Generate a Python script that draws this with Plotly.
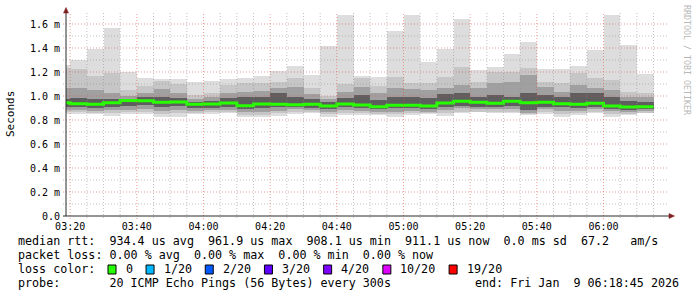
import plotly.graph_objects as go
import pandas as pd

# ---------------- data (values in ms) ----------------
bar_start = pd.date_range("2026-01-09 03:15:00", periods=36, freq="5min")

rtt_max = [1.258, 1.300, 1.392, 1.569, 1.196, 1.150, 1.145, 1.140, 1.117, 1.128,
           1.143, 1.152, 1.169, 1.208, 1.250, 1.178, 1.420, 1.678, 1.168, 1.157,
           1.542, 1.678, 1.286, 1.392, 1.645, 1.217, 1.243, 1.353, 1.450, 1.222,
           1.222, 1.250, 1.383, 1.678, 1.425, 1.183]
rtt_hi2 = [1.231, 1.225, 1.169, 1.194, 1.050, 1.083, 1.128, 1.100, 1.008, 1.028,
           1.092, 1.106, 1.111, 1.119, 1.147, 1.069, 1.000, 1.100, 1.147, 1.083,
           1.156, 1.106, 1.106, 1.161, 1.244, 1.119, 1.200, 1.200, 1.233, 1.119,
           1.111, 1.194, 1.147, 1.133, 1.036, 1.022]
rtt_hi3 = [1.064, 1.064, 1.050, 1.022, 1.000, 1.028, 1.056, 1.022, 0.972, 0.989,
           1.022, 1.036, 1.044, 1.064, 1.078, 1.017, 0.972, 1.031, 1.078, 1.022,
           1.064, 1.056, 1.050, 1.064, 1.092, 1.064, 1.106, 1.120, 1.175, 1.078,
           1.036, 1.092, 1.064, 1.050, 0.994, 0.989]
rtt_hi4 = [0.972, 0.981, 0.972, 0.972, 0.972, 0.989, 0.994, 0.981, 0.953, 0.961,
           0.981, 0.989, 0.994, 1.022, 0.994, 0.972, 0.950, 0.981, 1.008, 0.967,
           0.994, 0.994, 0.981, 1.017, 1.028, 0.989, 1.008, 0.994, 1.022, 1.008,
           0.994, 1.022, 1.022, 0.994, 0.961, 0.953]
rtt_median = [0.944, 0.936, 0.931, 0.944, 0.962, 0.961, 0.947, 0.950, 0.931, 0.933,
              0.942, 0.919, 0.933, 0.931, 0.928, 0.931, 0.917, 0.933, 0.925, 0.911,
              0.922, 0.922, 0.917, 0.942, 0.956, 0.947, 0.939, 0.956, 0.944, 0.947,
              0.936, 0.931, 0.939, 0.917, 0.908, 0.911]
rtt_lo4 = [0.911, 0.906, 0.897, 0.906, 0.917, 0.922, 0.911, 0.917, 0.897, 0.903,
           0.911, 0.889, 0.897, 0.906, 0.911, 0.903, 0.892, 0.911, 0.897, 0.889,
           0.897, 0.897, 0.889, 0.911, 0.919, 0.911, 0.911, 0.917, 0.883, 0.911,
           0.906, 0.897, 0.911, 0.892, 0.883, 0.889]
rtt_lo3 = [0.883, 0.883, 0.878, 0.883, 0.883, 0.889, 0.878, 0.883, 0.878, 0.883,
           0.883, 0.864, 0.869, 0.878, 0.889, 0.883, 0.869, 0.883, 0.878, 0.869,
           0.869, 0.875, 0.869, 0.883, 0.897, 0.889, 0.889, 0.889, 0.861, 0.889,
           0.878, 0.878, 0.889, 0.875, 0.869, 0.875]
rtt_lo2 = [0.864, 0.864, 0.861, 0.856, 0.864, 0.864, 0.850, 0.856, 0.861, 0.864,
           0.864, 0.842, 0.842, 0.856, 0.864, 0.864, 0.847, 0.856, 0.856, 0.850,
           0.847, 0.856, 0.856, 0.861, 0.869, 0.869, 0.869, 0.869, 0.850, 0.869,
           0.850, 0.856, 0.869, 0.850, 0.850, 0.861]
rtt_min = [0.847, 0.847, 0.847, 0.833, 0.847, 0.847, 0.822, 0.828, 0.847, 0.847,
           0.856, 0.822, 0.822, 0.836, 0.847, 0.856, 0.828, 0.842, 0.842, 0.842,
           0.828, 0.842, 0.847, 0.833, 0.861, 0.866, 0.861, 0.858, 0.842, 0.847,
           0.822, 0.842, 0.861, 0.828, 0.842, 0.856]

y_ticks = [0.0, 0.2, 0.4, 0.6, 0.8, 1.0, 1.2, 1.4, 1.6]
y_labels = ["0.0", "0.2 m", "0.4 m", "0.6 m", "0.8 m", "1.0 m", "1.2 m", "1.4 m", "1.6 m"]
y_minor = [0.1, 0.3, 0.5, 0.7, 0.9, 1.1, 1.3, 1.5]

loss_labels = ["0", "1/20", "2/20", "3/20", "4/20", "10/20", "19/20"]
loss_colors = ["#26ff00", "#00b8ff", "#0059ff", "#5e00ff", "#7e00ff", "#dd00ff", "#ff0000"]

legend_line1 = "median rtt:  934.4 us avg  961.9 us max  908.1 us min  911.1 us now  0.0 ms sd  67.2   am/s"
legend_line2 = "packet loss: 0.00 % avg  0.00 % max  0.00 % min  0.00 % now"
legend_line3 = "loss color:"
legend_probe = "probe:       20 ICMP Echo Pings (56 Bytes) every 300s"
legend_end = "end: Fri Jan  9 06:18:45 2026"
watermark = "RRDTOOL / TOBI OETIKER"

x_start = "2026-01-09 03:18:45"
x_end = "2026-01-09 06:18:45"

# ---------------- layout geometry ----------------
W_PX, H_PX = 697, 297
L, R, T, B = 66, 31, 13, 81
PW = W_PX - L - R
PH = H_PX - T - B
Y_TOP = 1.6917
MONO = "DejaVu Sans Mono"


def fx(px):
    return (px - L) / PW


def fy(py):
    return (H_PX - B - py) / PH


def nb(s):
    return s.replace(" ", "\u00a0")


fig = go.Figure()

layers = [
    (rtt_min, rtt_max, "#dddddd"),
    (rtt_lo2, rtt_hi2, "#c6c6c6"),
    (rtt_lo3, rtt_hi3, "#a0a0a0"),
    (rtt_lo4, rtt_hi4, "#5e5e5e"),
]
for lo, hi, col in layers:
    fig.add_trace(go.Bar(
        x=bar_start, y=[h - l for h, l in zip(hi, lo)], base=lo,
        width=300000, offset=0,
        marker=dict(color=col, line=dict(width=0)),
        hoverinfo="skip", showlegend=False,
    ))

step = pd.Timedelta("5min")
fig.add_trace(go.Scatter(
    x=list(bar_start) + [bar_start[-1] + step],
    y=rtt_median + [rtt_median[-1]],
    mode="lines", line=dict(color=loss_colors[0], width=3, shape="hv"),
    hoverinfo="skip", showlegend=False,
))

shapes = []
GRID = "rgba(143,143,143,0.55)"
MGRID = "rgba(222,79,79,0.55)"
DASH = "1px,2px"
# horizontal grid
for v in y_minor:
    shapes.append(dict(type="line", xref="paper", yref="y", x0=fx(63), x1=fx(668), y0=v, y1=v,
                       line=dict(color=GRID, width=1, dash=DASH), layer="above"))
for v in y_ticks[1:]:
    shapes.append(dict(type="line", xref="paper", yref="y", x0=fx(63), x1=fx(668), y0=v, y1=v,
                       line=dict(color=MGRID, width=1, dash=DASH), layer="above"))
# vertical grid
major_t = pd.date_range("2026-01-09 03:20", "2026-01-09 06:00", freq="20min")
minor_t = [t for t in pd.date_range("2026-01-09 03:20", "2026-01-09 06:15", freq="5min") if t not in major_t]
for t in minor_t:
    shapes.append(dict(type="line", xref="x", yref="paper", x0=t, x1=t, y0=fy(218), y1=1,
                       line=dict(color=GRID, width=1, dash=DASH), layer="above"))
for t in major_t:
    shapes.append(dict(type="line", xref="x", yref="paper", x0=t, x1=t, y0=fy(219), y1=1,
                       line=dict(color=MGRID, width=1, dash=DASH), layer="above"))
# axes
AX = "#2a2a2a"
shapes.append(dict(type="line", xref="paper", yref="paper", x0=fx(66), x1=fx(66), y0=fy(216), y1=fy(11),
                   line=dict(color=AX, width=1), layer="above"))
shapes.append(dict(type="line", xref="paper", yref="paper", x0=fx(63), x1=fx(670), y0=fy(216), y1=fy(216),
                   line=dict(color=AX, width=1), layer="above"))
ARROW = "#7f1f1f"
shapes.append(dict(type="path", xref="paper", yref="paper",
                   path=f"M {fx(63.5)} {fy(13)} L {fx(68.5)} {fy(13)} L {fx(66)} {fy(7.5)} Z",
                   fillcolor=ARROW, line=dict(color=ARROW, width=0.5), layer="above"))
shapes.append(dict(type="path", xref="paper", yref="paper",
                   path=f"M {fx(669)} {fy(213.5)} L {fx(669)} {fy(218.5)} L {fx(674.5)} {fy(216)} Z",
                   fillcolor=ARROW, line=dict(color=ARROW, width=0.5), layer="above"))

annotations = []
LEG_FONT = dict(family=MONO, size=11.7, color="black")
legend_y = [241, 255, 269, 283]
for text, yy in [(legend_line1, legend_y[0]), (legend_line2, legend_y[1]),
                 (legend_line3, legend_y[2]), (legend_probe, legend_y[3])]:
    annotations.append(dict(text=nb(text), xref="paper", yref="paper", x=fx(16), y=fy(yy),
                            xanchor="left", yanchor="middle", showarrow=False, font=LEG_FONT))
annotations.append(dict(text=nb(legend_end), xref="paper", yref="paper", x=fx(681), y=fy(legend_y[3]),
                        xanchor="right", yanchor="middle", showarrow=False, font=LEG_FONT))
# loss colour swatches
xpos = 108
for lab, col in zip(loss_labels, loss_colors):
    shapes.append(dict(type="rect", xref="paper", yref="paper",
                       x0=fx(xpos), x1=fx(xpos + 8), y0=fy(legend_y[2] + 5), y1=fy(legend_y[2] - 4),
                       fillcolor=col, line=dict(color="black", width=1), layer="above"))
    annotations.append(dict(text=nb(lab), xref="paper", yref="paper", x=fx(xpos + 15.5), y=fy(legend_y[2]),
                            xanchor="left", yanchor="middle", showarrow=False, font=LEG_FONT))
    xpos += 15.5 + len(lab) * 7.05 + 15.5

annotations.append(dict(text="Seconds", xref="paper", yref="paper", x=fx(11), y=fy(114),
                        xanchor="center", yanchor="middle", textangle=-90, showarrow=False,
                        font=dict(family=MONO, size=11, color="black")))
annotations.append(dict(text=nb(watermark), xref="paper", yref="paper", x=fx(687), y=fy(60),
                        xanchor="center", yanchor="middle", textangle=90, showarrow=False,
                        font=dict(family=MONO, size=8.3, color="#b8b8b8")))

fig.update_layout(
    width=W_PX, height=H_PX,
    margin=dict(l=L, r=R, t=T, b=B, pad=0),
    paper_bgcolor="white", plot_bgcolor="white",
    barmode="overlay", bargap=0,
    showlegend=False,
    shapes=shapes, annotations=annotations,
    xaxis=dict(type="date", range=[x_start, x_end], tickformat="%H:%M",
               tick0="2026-01-09 03:20:00", dtick=1200000,
               showgrid=False, zeroline=False, showline=False, ticks="",
               ticklabelstandoff=3,
               tickfont=dict(family=MONO, size=10, color="black"), fixedrange=True),
    yaxis=dict(range=[0, Y_TOP], tickvals=y_ticks, ticktext=y_labels,
               showgrid=False, zeroline=False, showline=False, ticks="",
               ticklabelstandoff=5,
               tickfont=dict(family=MONO, size=10, color="black"), fixedrange=True),
)

fig.write_html("out.html", config={"displayModeBar": False})
